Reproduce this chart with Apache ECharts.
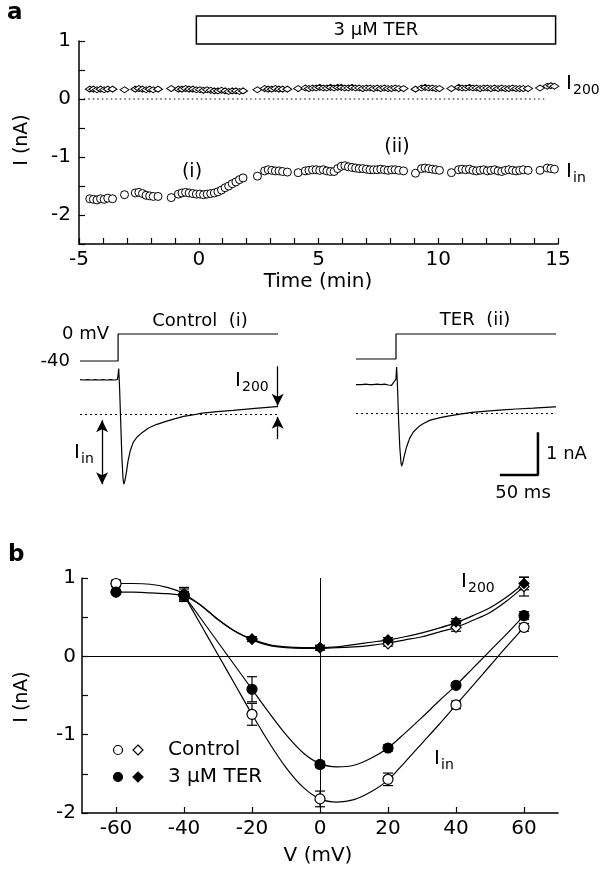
<!DOCTYPE html>
<html><head><meta charset="utf-8">
<script src="https://cdn.jsdelivr.net/npm/echarts@6.0.0/dist/echarts.min.js"></script>
<style>html,body{margin:0;padding:0;background:#fff}#c{width:601px;height:871px}</style>
</head><body><div id="c"></div>
<script>
// ---------- Panel a (time course) ----------
const timeMin = [-4.55,-4.4,-4.25,-4.1,-3.95,-3.8,-3.6,
 -3.1,-2.65,-2.5,-2.35,-2.2,-2.05,-1.9,-1.7,
 -1.15,-0.85,-0.7,-0.55,-0.4,-0.25,-0.1,0.05,0.2,0.35,0.5,0.65,0.8,0.95,1.1,1.25,1.4,1.55,1.7,1.85,
 2.45,2.75,2.9,3.05,3.2,3.35,3.5,3.7,
 4.15,4.45,4.6,4.75,4.9,5.05,5.2,5.35,5.5,5.65,5.8,5.95,6.1,6.25,6.4,6.55,6.7,6.85,7.0,7.15,7.3,7.45,7.6,7.75,7.9,8.05,8.2,8.35,8.55,
 9.05,9.3,9.45,9.6,9.75,9.9,10.05,
 10.55,10.85,11.0,11.15,11.3,11.45,11.6,11.75,11.9,12.05,12.2,12.35,12.5,12.65,12.8,12.95,13.1,13.25,13.4,13.55,13.75,
 14.25,14.55,14.7,14.85];
const iInTime = [-1.72,-1.73,-1.74,-1.72,-1.73,-1.71,-1.72,
 -1.65,-1.62,-1.61,-1.63,-1.66,-1.67,-1.68,-1.68,
 -1.70,-1.64,-1.62,-1.61,-1.62,-1.63,-1.64,-1.64,-1.65,-1.64,-1.63,-1.62,-1.60,-1.57,-1.53,-1.50,-1.46,-1.43,-1.39,-1.36,
 -1.33,-1.24,-1.22,-1.23,-1.24,-1.24,-1.25,-1.26,
 -1.27,-1.24,-1.23,-1.22,-1.22,-1.23,-1.22,-1.24,-1.25,-1.25,-1.20,-1.16,-1.15,-1.17,-1.18,-1.19,-1.20,-1.20,-1.21,-1.22,-1.22,-1.22,-1.21,-1.22,-1.23,-1.22,-1.22,-1.23,-1.24,
 -1.28,-1.20,-1.19,-1.20,-1.21,-1.22,-1.23,
 -1.27,-1.22,-1.21,-1.22,-1.21,-1.23,-1.24,-1.23,-1.22,-1.24,-1.23,-1.22,-1.24,-1.25,-1.23,-1.22,-1.23,-1.24,-1.23,-1.22,-1.23,
 -1.23,-1.19,-1.20,-1.21];
const i200Time = [0.17,0.17,0.16,0.17,0.16,0.17,0.17,
 0.16,0.17,0.18,0.17,0.16,0.17,0.16,0.17,
 0.18,0.17,0.17,0.18,0.17,0.17,0.16,0.16,0.15,0.16,0.15,0.14,0.14,0.15,0.14,0.13,0.14,0.14,0.13,0.14,
 0.16,0.18,0.17,0.17,0.18,0.17,0.17,0.17,
 0.18,0.19,0.18,0.19,0.19,0.20,0.19,0.19,0.20,0.19,0.20,0.20,0.19,0.19,0.20,0.19,0.19,0.18,0.19,0.19,0.18,0.19,0.18,0.19,0.18,0.18,0.19,0.18,0.18,
 0.17,0.19,0.20,0.19,0.19,0.18,0.18,
 0.18,0.20,0.19,0.19,0.20,0.19,0.19,0.18,0.19,0.19,0.18,0.19,0.18,0.19,0.18,0.18,0.19,0.18,0.18,0.18,0.18,
 0.19,0.22,0.23,0.22];
const drugStart = -0.1, drugEnd = 14.9;
const zeroLineSpan = [-4.8, 14.55];

// ---------- Current traces ----------
const ctrlT = [-50,-45,-40,-35,-30,-25,-20,-15,-10,-5,-1,0,0.8,2,3.5,5,6.5,7.5,9,11,13,16,20,25,30,40,50,64,75,86,100,108,130,151,180,208,210];
const ctrlI = [0.81,0.80,0.81,0.80,0.81,0.80,0.81,0.80,0.81,0.80,0.81,0.9,1.07,0.6,-0.2,-1.0,-1.5,-1.63,-1.55,-1.35,-1.1,-0.85,-0.65,-0.53,-0.45,-0.32,-0.24,-0.16,-0.10,-0.05,-0.01,0.02,0.06,0.09,0.14,0.18,0.18];
const terT = [-52.5,-45,-40,-35,-30,-25,-20,-15,-10,-8,-6,-4,-2,0,0.8,2,3.5,5,6.5,7.5,9,11,14,18,23,30,36,45,58,70,84,100,119,140,158,180,208,210];
const terI = [0.67,0.67,0.68,0.67,0.67,0.68,0.67,0.68,0.66,0.69,0.65,0.70,0.66,0.8,1.08,0.6,-0.2,-0.8,-1.15,-1.23,-1.15,-0.98,-0.78,-0.58,-0.43,-0.31,-0.24,-0.16,-0.10,-0.06,-0.02,0.02,0.05,0.08,0.10,0.12,0.15,0.15];
const ctrlVoltT = [-50,0,0,210], ctrlVoltMV = [-40,-40,0,0];
const terVoltT = [-52.5,0,0,210], terVoltMV = [-40,-40,0,0];
const scaleBarT = [136.3,186.3,186.3], scaleBarI = [-1.44,-1.44,-0.44];

// ---------- Panel b (I-V) ----------
const volt = [-60,-40,-20,0,20,40,60];
const ctrlIin = [0.93,0.78,-0.74,-1.82,-1.57,-0.62,0.37];
const ctrlIinErr = [0.04,0.08,0.14,0.10,0.08,0.05,0.05];
const terIin = [0.82,0.78,-0.42,-1.38,-1.17,-0.37,0.52];
const terIinErr = [0.03,0.05,0.16,0.04,0.04,0.03,0.05];
const ctrlI200 = [0.93,0.80,0.22,0.11,0.16,0.37,0.89];
const ctrlI200Err = [0.04,0.08,0.03,0.03,0.03,0.05,0.12];
const terI200 = [0.82,0.77,0.22,0.11,0.21,0.44,0.93];
const terI200Err = [0.03,0.05,0.03,0.03,0.03,0.04,0.08];
const fitVI200 = [-60,-55,-50,-45,-40,-35,-30,-25,-20,-15,-10,-5,0,5,10,15,20,25,30,35,40,45,50,55,60];
const ctrlI200Fit = [0.93,0.93,0.92,0.88,0.80,0.65,0.47,0.32,0.21,0.14,0.11,0.10,0.10,0.11,0.12,0.14,0.17,0.21,0.25,0.31,0.37,0.46,0.56,0.71,0.89];
const terI200Fit = [0.82,0.82,0.81,0.80,0.77,0.65,0.47,0.32,0.22,0.15,0.12,0.11,0.11,0.12,0.15,0.18,0.21,0.25,0.30,0.36,0.43,0.52,0.62,0.76,0.93];
const fitVIin = [-40,-35,-30,-25,-20,-15,-10,-5,0,5,10,15,20,25,30,35,40,45,50,55,60];
const ctrlIinFit = [0.78,0.40,0.02,-0.36,-0.74,-1.10,-1.42,-1.67,-1.82,-1.86,-1.83,-1.73,-1.58,-1.35,-1.11,-0.87,-0.62,-0.37,-0.12,0.13,0.37];
const terIinFit = [0.78,0.48,0.18,-0.12,-0.42,-0.72,-1.00,-1.23,-1.37,-1.41,-1.39,-1.30,-1.17,-0.98,-0.78,-0.57,-0.37,-0.15,0.07,0.29,0.52];
const voltTicks = [-60,-40,-20,0,20,40,60];

const FONT = '"DejaVu Sans", sans-serif';
const zip = (a,b) => a.map((v,i)=>[v,b[i]]);
const chart = echarts.init(document.getElementById('c'), null, {renderer:'canvas'});

const axLine = {show:true, onZero:false, lineStyle:{color:'#000', width:1.5}};
const axTick = {show:true, inside:true, length:6, lineStyle:{color:'#000', width:1.2}};
const axLab = {color:'#000', fontSize:20, fontFamily:FONT};
const intOnly = v => Number.isInteger(v) ? String(v) : '';
const hidden = (gi, min, max) => ({gridIndex:gi, type:'value', min, max, show:false});

const lineS = (xi, data, extra) => Object.assign({type:'line', xAxisIndex:xi, yAxisIndex:xi, data, symbol:'none', clip:false,
  lineStyle:{color:'#000', width:1.2}, animation:false, silent:true}, extra||{});

function errSeries(xs, ys, es) {
  return {type:'custom', xAxisIndex:5, yAxisIndex:5, z:3, animation:false, silent:true,
    encode:{x:0, y:[1,2]},
    data: xs.map((x,i)=>[x, ys[i]-es[i], ys[i]+es[i]]),
    renderItem(params, api){
      const lo = api.coord([api.value(0), api.value(1)]);
      const hi = api.coord([api.value(0), api.value(2)]);
      const w = 5, st = {stroke:'#000', lineWidth:1.2};
      return {type:'group', children:[
        {type:'line', shape:{x1:lo[0],y1:lo[1],x2:hi[0],y2:hi[1]}, style:st},
        {type:'line', shape:{x1:lo[0]-w,y1:lo[1],x2:lo[0]+w,y2:lo[1]}, style:st},
        {type:'line', shape:{x1:hi[0]-w,y1:hi[1],x2:hi[0]+w,y2:hi[1]}, style:st}]};
    }};
}
const markS = (xs, ys, symbol, size, filled, z) => ({type:'scatter', xAxisIndex:5, yAxisIndex:5, data:zip(xs,ys), symbol, symbolSize:size, z:z||5,
  animation:false, silent:true, itemStyle:{color: filled?'#000':'#fff', borderColor:'#000', borderWidth:1.2, opacity:1}});

function txt(x, y, s, size, align, extra) {
  return Object.assign({type:'text', x, y, style:{text:s, font:`${size}px ${FONT}`, fill:'#000', align:align||'left', verticalAlign:'middle'}}, extra||{});
}
function subLabel(x, y, main, sub) {
  return [txt(x, y, main, 20, 'left'), txt(x+7, y+6, sub, 14, 'left')];
}

const graphics = [
  txt(7, 13, 'a', 23, 'left', {style:{text:'a', font:`bold 23px ${FONT}`, fill:'#000', verticalAlign:'middle'}}),
  txt(8, 555, 'b', 23, 'left', {style:{text:'b', font:`bold 23px ${FONT}`, fill:'#000', verticalAlign:'middle'}}),
  txt(22, 140, 'I (nA)', 19, 'center', {rotation:Math.PI/2}),
  txt(318, 282, 'Time (min)', 20, 'center'),
  txt(22, 697, 'I (nA)', 19, 'center', {rotation:Math.PI/2}),
  txt(318, 856, 'V (mV)', 20, 'center'),
  txt(192, 172, '(i)', 19, 'center'),
  txt(397, 147, '(ii)', 19, 'center'),
  ...subLabel(566, 84, 'I', '200'),
  ...subLabel(566, 172, 'I', 'in'),
  txt(200, 321, 'Control  (i)', 18, 'center'),
  txt(475, 320, 'TER  (ii)', 18, 'center'),
  txt(109, 334, '0 mV', 18, 'right'),
  txt(70, 361, '-40', 18, 'right'),
  ...subLabel(235, 381, 'I', '200'),
  ...subLabel(74, 453, 'I', 'in'),
  txt(546, 454, '1 nA', 18, 'left'),
  txt(523, 493, '50 ms', 18, 'center'),
  ...subLabel(461, 582, 'I', '200'),
  ...subLabel(434, 759, 'I', 'in'),
  {type:'circle', shape:{cx:118, cy:750, r:4.5}, style:{fill:'#fff', stroke:'#000', lineWidth:1.2}},
  {type:'polygon', shape:{points:[[138,745],[143,750],[138,755],[133,750]]}, style:{fill:'#fff', stroke:'#000', lineWidth:1.2}},
  txt(168, 750, 'Control', 20, 'left'),
  {type:'circle', shape:{cx:118, cy:777, r:4.5}, style:{fill:'#000', stroke:'#000', lineWidth:1.2}},
  {type:'polygon', shape:{points:[[138,772],[143,777],[138,782],[133,777]]}, style:{fill:'#000', stroke:'#000', lineWidth:1.2}},
  txt(168, 777, '3 µM TER', 20, 'left')
];

const arrowML = {symbol:['none','arrow'], symbolSize:[9,12], silent:true, animation:false,
  label:{show:false}, lineStyle:{color:'#000', width:1.3, type:'solid'},
  data:[
    [{coord:[-21,-0.14], symbol:'arrow'},{coord:[-21,-1.63]}],
    [{coord:[209.6,1.12]},{coord:[209.6,0.2]}],
    [{coord:[209.6,-0.58]},{coord:[209.6,-0.06]}]
  ]};
const zeroDot = {symbol:'none', silent:true, animation:false, label:{show:false},
  lineStyle:{color:'#000', width:1, type:[2,3]}, data:[{yAxis:0}]};

const option = {
  backgroundColor:'#fff',
  animation:false,
  textStyle:{fontFamily:FONT},
  grid:[
    {left:79, top:41, width:479, height:203},
    {left:80, top:334, width:198, height:27},
    {left:80, top:350, width:198, height:150},
    {left:356, top:334, width:200, height:25},
    {left:356, top:349, width:200, height:150},
    {left:82, top:578, width:476, height:235}
  ],
  xAxis:[
    {gridIndex:0, type:'value', min:-5, max:15, interval:1, axisLine:axLine, axisTick:axTick, splitLine:{show:false},
      axisLabel:Object.assign({}, axLab, {margin:6, formatter:v => v%5===0 ? String(v) : ''})},
    hidden(1,-50,210), hidden(2,-50,210), hidden(3,-52.5,210), hidden(4,-52.5,210),
    {gridIndex:5, type:'value', min:-70, max:70, axisLine:axLine, splitLine:{show:false},
      axisTick:Object.assign({}, axTick, {customValues:voltTicks}),
      axisLabel:Object.assign({}, axLab, {margin:6, customValues:voltTicks})}
  ],
  yAxis:[
    {gridIndex:0, type:'value', min:-2.5, max:1, interval:0.5, axisLine:axLine, axisTick:axTick, splitLine:{show:false},
      axisLabel:Object.assign({}, axLab, {margin:8, formatter:intOnly})},
    hidden(1,-40,0), hidden(2,-2,1.5), hidden(3,-40,0), hidden(4,-2,1.5),
    {gridIndex:5, type:'value', min:-2, max:1, interval:0.5, axisLine:axLine, axisTick:axTick, splitLine:{show:false},
      axisLabel:Object.assign({}, axLab, {margin:6, formatter:intOnly})}
  ],
  graphic: graphics,
  series:[
    // panel a
    {type:'custom', xAxisIndex:0, yAxisIndex:0, clip:false, silent:true, animation:false,
      data:[[drugStart, 1, drugEnd]],
      renderItem(params, api){
        const p0 = api.coord([api.value(0), api.value(1)]);
        const p1 = api.coord([api.value(2), api.value(1)]);
        return {type:'group', children:[
          {type:'rect', shape:{x:p0[0], y:p0[1]-25, width:p1[0]-p0[0], height:28}, style:{fill:'#fff', stroke:'#000', lineWidth:1.5}},
          {type:'text', style:{text:'3 µM TER', x:(p0[0]+p1[0])/2, y:p0[1]-11, align:'center', verticalAlign:'middle', font:`18px ${FONT}`, fill:'#000'}}
        ]};
      }},
    lineS(0, zeroLineSpan.map(t=>[t,0]), {lineStyle:{color:'#000', width:1.2, type:[1.5,3]}}),
    {type:'scatter', xAxisIndex:0, yAxisIndex:0, data:zip(timeMin, i200Time), symbol:'diamond', symbolSize:[9,6], animation:false, silent:true,
      itemStyle:{color:'#fff', borderColor:'#000', borderWidth:1, opacity:1}},
    {type:'scatter', xAxisIndex:0, yAxisIndex:0, data:zip(timeMin, iInTime), symbol:'circle', symbolSize:8, animation:false, silent:true,
      itemStyle:{color:'#fff', borderColor:'#000', borderWidth:1, opacity:1}},
    // traces
    lineS(1, zip(ctrlVoltT, ctrlVoltMV)),
    lineS(2, zip(ctrlT, ctrlI), {markLine:zeroDot}),
    lineS(2, [], {markLine:arrowML}),
    lineS(3, zip(terVoltT, terVoltMV)),
    lineS(4, zip(terT, terI), {markLine:zeroDot}),
    lineS(4, zip(scaleBarT, scaleBarI), {lineStyle:{color:'#000', width:2.5}}),
    // panel b
    lineS(5, [], {markLine:{symbol:'none', silent:true, animation:false, label:{show:false}, lineStyle:{color:'#000', width:1, type:'solid'}, data:[{yAxis:0},{xAxis:0}]}}),
    lineS(5, zip(fitVI200, ctrlI200Fit), {smooth:0.3}),
    lineS(5, zip(fitVI200, terI200Fit), {smooth:0.3}),
    lineS(5, zip(fitVIin, ctrlIinFit), {smooth:0.3}),
    lineS(5, zip(fitVIin, terIinFit), {smooth:0.3}),
    errSeries(volt, ctrlIin, ctrlIinErr),
    errSeries(volt, terIin, terIinErr),
    errSeries(volt, ctrlI200, ctrlI200Err),
    errSeries(volt, terI200, terI200Err),
    markS(volt, ctrlI200, 'diamond', [10,10], false, 5),
    markS(volt, terI200, 'diamond', [10,10], true, 6),
    markS(volt, ctrlIin, 'circle', 10, false, 7),
    markS(volt, terIin, 'circle', 10, true, 8)
  ]
};
chart.setOption(option);
</script></body></html>
